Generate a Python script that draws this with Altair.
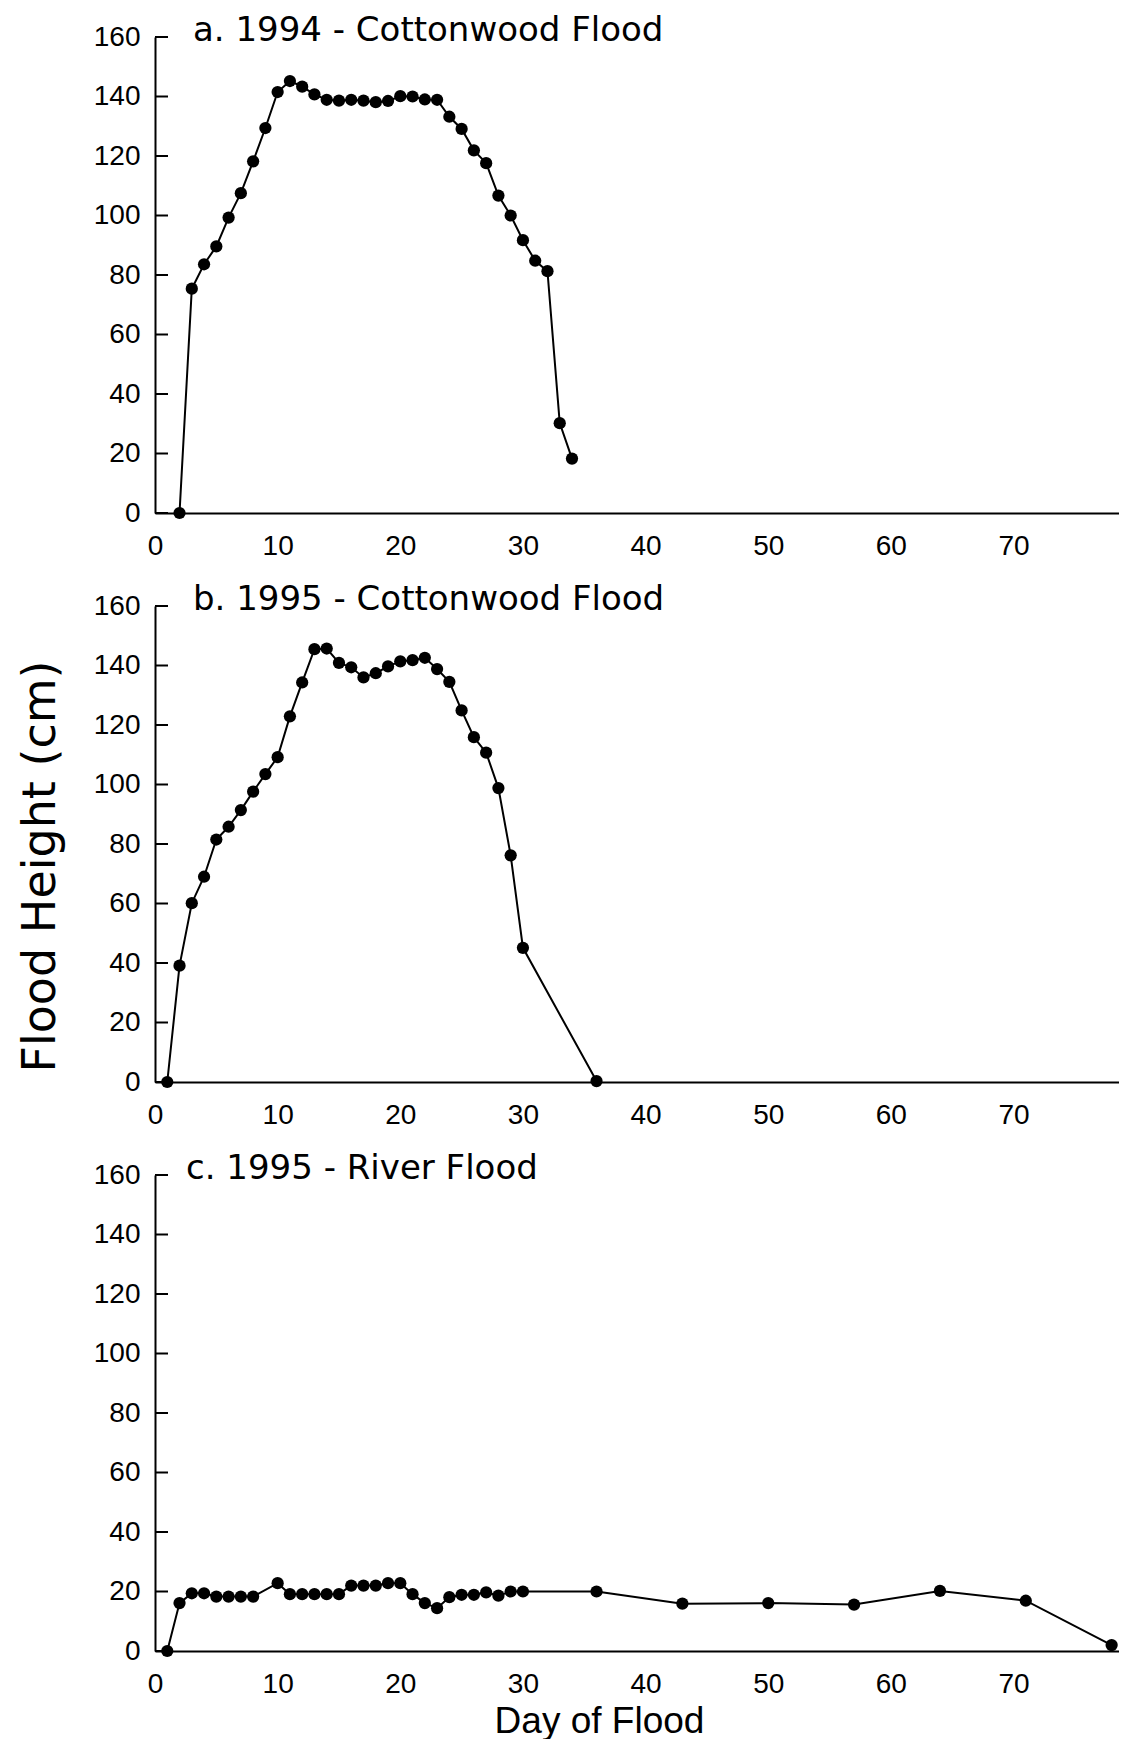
import altair as alt
import pandas as pd

# Daily flood heights (cm) read for each flood record
days_a = [2, 3, 4, 5, 6, 7, 8, 9, 10, 11, 12, 13, 14, 15, 16, 17, 18, 19, 20,
          21, 22, 23, 24, 25, 26, 27, 28, 29, 30, 31, 32, 33, 34]
height_a = [0, 75.4, 83.6, 89.6, 99.3, 107.5, 118.2, 129.4, 141.5, 145.2, 143.3,
            140.7, 138.9, 138.6, 138.9, 138.6, 138.1, 138.5, 140.1, 140.0, 139.0,
            138.9, 133.2, 129.1, 121.9, 117.6, 106.7, 100.0, 91.7, 84.8, 81.3,
            30.2, 18.3]

days_b = [1, 2, 3, 4, 5, 6, 7, 8, 9, 10, 11, 12, 13, 14, 15, 16, 17, 18, 19, 20,
          21, 22, 23, 24, 25, 26, 27, 28, 29, 30, 36]
height_b = [0, 39.1, 60.1, 69.0, 81.5, 85.8, 91.4, 97.6, 103.5, 109.2, 122.9,
            134.3, 145.5, 145.7, 140.9, 139.4, 136.0, 137.4, 139.7, 141.4, 141.8,
            142.6, 138.8, 134.5, 124.9, 115.9, 110.7, 98.8, 76.2, 45.1, 0.3]

days_c = [1, 2, 3, 4, 5, 6, 7, 8, 10, 11, 12, 13, 14, 15, 16, 17, 18, 19, 20,
          21, 22, 23, 24, 25, 26, 27, 28, 29, 30, 36, 43, 50, 57, 64, 71, 78]
height_c = [0, 16.1, 19.4, 19.4, 18.3, 18.3, 18.3, 18.3, 22.8, 19.1, 19.1, 19.1,
            19.1, 19.1, 22.0, 22.0, 22.0, 22.8, 22.8, 19.1, 16.1, 14.4, 18.1,
            18.9, 18.9, 19.7, 18.6, 20.0, 20.0, 20.0, 15.9, 16.1, 15.6, 20.2,
            16.9, 2.0]

panel_titles = ["a. 1994 - Cottonwood Flood",
                "b. 1995 - Cottonwood Flood",
                "c. 1995 - River Flood"]

x_ticks = [0, 10, 20, 30, 40, 50, 60, 70]
y_ticks = [0, 20, 40, 60, 80, 100, 120, 140, 160]

LABEL_FONT = "Liberation Sans"
TITLE_FONT = "DejaVu Sans"
PANEL_W = 964
PANEL_H = 476


def panel(days, heights, label, label_dx, x_title=None, y_title=None):
    df = pd.DataFrame({"day": days, "height": heights})
    x_scale = alt.Scale(domain=[0, 78.6], nice=False, zero=False)
    y_scale = alt.Scale(domain=[0, 160], nice=False)

    x_kwargs = dict(values=x_ticks, ticks=False, tickSize=0, labelPadding=19,
                    labelFlush=False, grid=False, title=x_title)
    if x_title:
        x_kwargs.update(titleX=444, titleY=81, titleAlign="center",
                        titleBaseline="alphabetic", titleFont=LABEL_FONT,
                        titleFontSize=37, titleFontWeight="normal",
                        titleColor="black")
    y_kwargs = dict(values=y_ticks, ticks=False, tickSize=0, labelPadding=15,
                    labelFlush=False, grid=False, title=y_title)
    if y_title:
        y_kwargs.update(titleAngle=270, titleX=-101, titleY=260,
                        titleAlign="center", titleBaseline="alphabetic",
                        titleFont=TITLE_FONT, titleFontSize=46,
                        titleFontWeight="normal", titleColor="black")
    y_axis = alt.Axis(**y_kwargs)

    line = alt.Chart(df).mark_line(
        color="black", strokeWidth=2,
        point=alt.OverlayMarkDef(filled=True, color="black", size=150, opacity=1),
    ).encode(
        x=alt.X("day:Q", scale=x_scale, axis=alt.Axis(**x_kwargs)),
        y=alt.Y("height:Q", scale=y_scale, axis=y_axis),
    )

    # inward-pointing tick marks on the height axis
    ticks = alt.Chart(pd.DataFrame({"v": y_ticks})).mark_rule(
        color="black", strokeWidth=2
    ).encode(
        y=alt.Y("v:Q", scale=y_scale, axis=y_axis),
        x=alt.value(0),
        x2=alt.value(13),
    )

    heading = alt.Chart(pd.DataFrame({"t": [label]})).mark_text(
        align="left", baseline="alphabetic", font=TITLE_FONT, fontSize=34,
        color="black",
    ).encode(
        x=alt.value(label_dx),
        y=alt.value(4),
        text="t:N",
    )

    return alt.layer(line, ticks, heading).properties(width=PANEL_W, height=PANEL_H)


chart = alt.vconcat(
    panel(days_a, height_a, panel_titles[0], 38),
    panel(days_b, height_b, panel_titles[1], 38, y_title="Flood Height (cm)"),
    panel(days_c, height_c, panel_titles[2], 31, x_title="Day of Flood"),
    spacing=93,
    bounds="flush",
).configure(
    padding={"left": 16, "top": 14, "right": 0, "bottom": 0},
    background="white",
).configure_view(
    stroke=None,
).configure_axis(
    labelFont=LABEL_FONT,
    labelFontSize=28,
    labelColor="black",
    domainColor="black",
    domainWidth=2,
)

chart.save("out.html", embed_options={"renderer": "svg", "actions": False})
